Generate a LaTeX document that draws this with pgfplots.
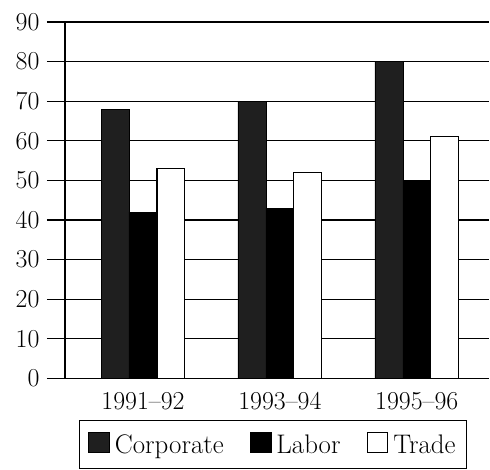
\documentclass[border=0pt]{standalone}
\usepackage{pgfplots}
\pgfplotsset{compat=1.18}
\begin{document}
\begin{tikzpicture}
\begin{axis}[
  at={(0,0)}, anchor=south west,
  scale only axis, width=425bp, height=357bp,
  ymin=0, ymax=90, ytick={0,10,...,90},
  xmin=-0.57, xmax=2.53,
  xtick={0,1,2}, xticklabels={1991--92,1993--94,1995--96},
  axis x line=bottom, axis y line=left,
  axis line style={-, line width=1.3bp, black},
  ybar, bar width=28bp, ybar=0pt,
  ymajorgrids, grid style={black, line width=1.1bp},
  tick align=outside, major tick length=18bp,
  ytick style={black, line width=1.1bp},
  xtick style={draw=none},
  /pgf/number format/assume math mode=true,
  ticklabel style={font=\fontsize{26}{30}\selectfont},
  yticklabel style={xshift=-4bp},
  xticklabel style={yshift=8bp},
  legend columns=3,
  legend style={at={(0.490,-0.1150)}, anchor=north, draw=black, line width=1.3bp,
    font=\fontsize{27}{32}\selectfont, inner xsep=9bp, inner ysep=12bp,
    /tikz/every odd column/.append style={column sep=3bp},
    /tikz/every even column/.append style={column sep=24bp}},
  legend image code/.code={\draw[#1, line width=0.8bp] (0bp,-8bp) rectangle (21bp,12bp);},
]
\addplot[fill=black!88, draw=black] coordinates {(0,68) (1,70) (2,80)};
\addplot[fill=black, draw=black] coordinates {(0,42) (1,43) (2,50)};
\addplot[fill=white, draw=black, line width=1.2bp] coordinates {(0,53) (1,52) (2,61)};
\legend{Corporate, Labor, Trade}
\end{axis}
\useasboundingbox (-65bp,-91bp) rectangle (425bp,379bp);
\end{tikzpicture}
\end{document}
